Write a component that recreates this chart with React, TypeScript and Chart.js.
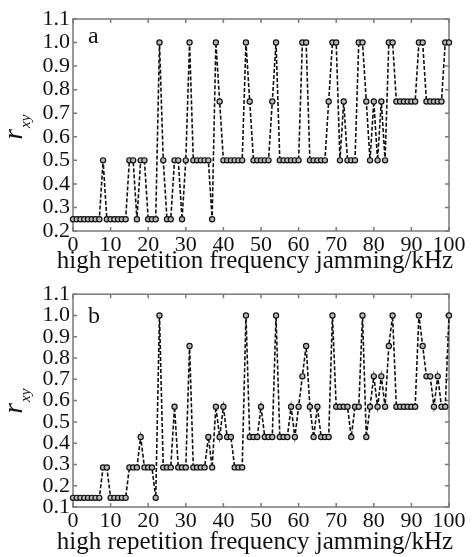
import React, { useEffect, useRef } from "react";
import { Chart, registerables } from "chart.js";

Chart.register(...registerables);

const SERIF = '"Liberation Serif", "Times New Roman", serif';

// x axis: high repetition frequency jamming (kHz)
const freqKHz = [
  0, 1, 2, 3, 4, 5, 6, 7, 8, 9,
  10, 11, 12, 13, 14, 15, 16, 17, 18, 19,
  20, 21, 22, 23, 24, 25, 26, 27, 28, 29,
  30, 31, 32, 33, 34, 35, 36, 37, 38, 39,
  40, 41, 42, 43, 44, 45, 46, 47, 48, 49,
  50, 51, 52, 53, 54, 55, 56, 57, 58, 59,
  60, 61, 62, 63, 64, 65, 66, 67, 68, 69,
  70, 71, 72, 73, 74, 75, 76, 77, 78, 79,
  80, 81, 82, 83, 84, 85, 86, 87, 88, 89,
  90, 91, 92, 93, 94, 95, 96, 97, 98, 99,
  100,
];

// panel a: r_xy
const rxyA = [
  0.25, 0.25, 0.25, 0.25, 0.25, 0.25, 0.25, 0.25, 0.5, 0.25,
  0.25, 0.25, 0.25, 0.25, 0.25, 0.5, 0.5, 0.25, 0.5, 0.5,
  0.25, 0.25, 0.25, 1, 0.5, 0.25, 0.25, 0.5, 0.5, 0.25,
  0.5, 1, 0.5, 0.5, 0.5, 0.5, 0.5, 0.25, 1, 0.75,
  0.5, 0.5, 0.5, 0.5, 0.5, 0.5, 1, 0.75, 0.5, 0.5,
  0.5, 0.5, 0.5, 0.75, 1, 0.5, 0.5, 0.5, 0.5, 0.5,
  0.5, 1, 1, 0.5, 0.5, 0.5, 0.5, 0.5, 0.75, 1,
  1, 0.5, 0.75, 0.5, 0.5, 0.5, 1, 1, 0.75, 0.5,
  0.75, 0.5, 0.75, 0.5, 1, 1, 0.75, 0.75, 0.75, 0.75,
  0.75, 0.75, 1, 1, 0.75, 0.75, 0.75, 0.75, 0.75, 1,
  1,
];

// panel b: r_xy
const rxyB = [
  0.143, 0.143, 0.143, 0.143, 0.143, 0.143, 0.143, 0.143, 0.286, 0.286,
  0.143, 0.143, 0.143, 0.143, 0.143, 0.286, 0.286, 0.286, 0.429, 0.286,
  0.286, 0.286, 0.143, 1, 0.286, 0.286, 0.286, 0.571, 0.286, 0.286,
  0.286, 0.857, 0.286, 0.286, 0.286, 0.286, 0.429, 0.286, 0.571, 0.429,
  0.571, 0.429, 0.429, 0.286, 0.286, 0.286, 1, 0.429, 0.429, 0.429,
  0.571, 0.429, 0.429, 0.429, 1, 0.429, 0.429, 0.429, 0.571, 0.429,
  0.571, 0.714, 0.857, 0.571, 0.429, 0.571, 0.429, 0.429, 0.429, 1,
  0.571, 0.571, 0.571, 0.571, 0.429, 0.571, 0.571, 1, 0.429, 0.571,
  0.714, 0.571, 0.714, 0.571, 0.857, 1, 0.571, 0.571, 0.571, 0.571,
  0.571, 0.571, 1, 0.857, 0.714, 0.714, 0.571, 0.714, 0.571, 0.571,
  1,
];

const xTickValues = [0, 10, 20, 30, 40, 50, 60, 70, 80, 90, 100];
const yTicksA = [0.2, 0.3, 0.4, 0.5, 0.6, 0.7, 0.8, 0.9, 1.0, 1.1];
const yTicksB = [0.1, 0.2, 0.3, 0.4, 0.5, 0.6, 0.7, 0.8, 0.9, 1.0, 1.1];
const xTitle = "high repetition frequency jamming/kHz";

const decor = {
  id: "decor",
  beforeDatasetsDraw(chart: any, _args: any, opts: any) {
    const { ctx, chartArea: a, scales } = chart;
    ctx.save();
    ctx.strokeStyle = "#7a7a7a";
    ctx.lineWidth = 1.5;
    ctx.strokeRect(a.left, a.top, a.right - a.left, a.bottom - a.top);
    const tl = 4;
    ctx.beginPath();
    for (const v of opts.xTicks) {
      const px = scales.x.getPixelForValue(v);
      ctx.moveTo(px, a.bottom);
      ctx.lineTo(px, a.bottom - tl);
      ctx.moveTo(px, a.top);
      ctx.lineTo(px, a.top + tl);
    }
    for (const v of opts.yTicks) {
      const py = scales.y.getPixelForValue(v);
      ctx.moveTo(a.left, py);
      ctx.lineTo(a.left + tl, py);
      ctx.moveTo(a.right, py);
      ctx.lineTo(a.right - tl, py);
    }
    ctx.stroke();
    ctx.restore();
  },
  afterDraw(chart: any, _args: any, opts: any) {
    const { ctx } = chart;
    ctx.save();
    ctx.fillStyle = "#111";
    ctx.textBaseline = "alphabetic";
    ctx.textAlign = "left";
    ctx.font = `24px ${SERIF}`;
    ctx.fillText(opts.letter, opts.letterX, opts.letterY);
    ctx.textAlign = "center";
    ctx.font = `25px ${SERIF}`;
    ctx.fillText(opts.title, opts.titleX, opts.titleY);
    ctx.translate(opts.yLabelX, opts.yLabelY);
    ctx.rotate(-Math.PI / 2);
    ctx.textAlign = "left";
    ctx.font = `italic 27px ${SERIF}`;
    const rW = ctx.measureText("r").width;
    ctx.font = `italic 15px ${SERIF}`;
    const sW = ctx.measureText("xy").width;
    const total = rW + 1 + sW;
    ctx.font = `italic 27px ${SERIF}`;
    ctx.fillText("r", -total / 2, 0);
    ctx.font = `italic 15px ${SERIF}`;
    ctx.fillText("xy", -total / 2 + rW + 1, 8);
    ctx.restore();
  },
};

type PanelProps = {
  values: number[];
  yMin: number;
  yTicks: number[];
  letter: string;
  height: number;
  plotTop: number;
  plotBottom: number;
  letterY: number;
  titleY: number;
  yLabelY: number;
};

function Panel(p: PanelProps) {
  const ref = useRef<HTMLCanvasElement>(null);
  useEffect(() => {
    if (!ref.current) return;
    const chart = new Chart(ref.current, {
      type: "line",
      data: {
        datasets: [
          {
            data: freqKHz.map((x, i) => ({ x, y: p.values[i] })),
            borderColor: "#111",
            borderWidth: 1.6,
            borderDash: [4, 2],
            pointRadius: 2.6,
            pointBorderWidth: 1.2,
            pointBorderColor: "#111",
            pointBackgroundColor: "#b8b8b8",
            tension: 0,
            fill: false,
            clip: false,
          } as any,
        ],
      },
      options: {
        responsive: false,
        animation: false,
        layout: { padding: { left: 0, right: 25, top: p.plotTop, bottom: 0 } },
        plugins: {
          legend: { display: false },
          tooltip: { enabled: false },
          decor: {
            xTicks: xTickValues,
            yTicks: p.yTicks,
            letter: p.letter,
            letterX: 88,
            letterY: p.letterY,
            title: xTitle,
            titleX: 255,
            titleY: p.titleY,
            yLabelX: 22,
            yLabelY: p.yLabelY,
          },
        } as any,
        scales: {
          x: {
            type: "linear",
            min: 0,
            max: 100,
            afterFit: (s: any) => {
              s.height = p.height - p.plotBottom;
            },
            grid: { display: false, drawTicks: false },
            border: { display: false },
            ticks: {
              stepSize: 10,
              padding: 1,
              color: "#111",
              font: { family: SERIF, size: 22 },
              maxRotation: 0,
              autoSkip: false,
            },
          },
          y: {
            type: "linear",
            min: p.yMin,
            max: 1.1,
            afterFit: (s: any) => {
              s.width = 73;
            },
            grid: { display: false, drawTicks: false },
            border: { display: false },
            ticks: {
              stepSize: 0.1,
              padding: 3,
              color: "#111",
              font: { family: SERIF, size: 22 },
              autoSkip: false,
              callback: (v: any) => Number(v).toFixed(1),
            },
          },
        },
      },
      plugins: [decor as any],
    });
    return () => chart.destroy();
  }, []);
  return <canvas ref={ref} width={474} height={p.height} style={{ display: "block" }} />;
}

export default function App() {
  return (
    <div
      style={{
        position: "absolute",
        left: 0,
        top: 0,
        width: 474,
        height: 557,
        background: "#fff",
      }}
    >
      <Panel
        values={rxyA}
        yMin={0.2}
        yTicks={yTicksA}
        letter="a"
        height={278}
        plotTop={19}
        plotBottom={231}
        letterY={43}
        titleY={268}
        yLabelY={127}
      />
      <Panel
        values={rxyB}
        yMin={0.1}
        yTicks={yTicksB}
        letter="b"
        height={279}
        plotTop={16}
        plotBottom={229}
        letterY={45}
        titleY={271}
        yLabelY={123}
      />
    </div>
  );
}
